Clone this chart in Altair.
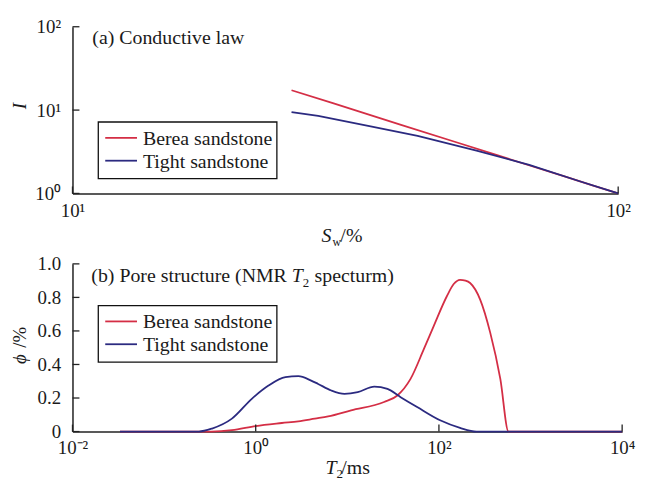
import altair as alt
import pandas as pd

FONT = "Liberation Serif"
INK = "#1a1a1a"

series = ["Berea sandstone", "Tight sandstone"]
colors = ["#d42e45", "#2b2a80"]

# (a) Conductive law
sw_berea = [25.2, 30, 40, 50, 60, 70, 80, 90, 100]
i_berea = [17.3, 12.1, 6.66, 4.20, 2.88, 2.09, 1.59, 1.24, 1.0]
sw_tight = [25.2, 28.2, 35, 42.9, 55, 68.7, 85, 100]
i_tight = [9.47, 8.5, 6.4, 4.9, 3.27, 2.2, 1.40, 1.0]

# (b) NMR T2 spectrum
t2_berea = [0.033, 0.33, 0.55, 1.0, 1.93, 2.92, 4.42, 6.17, 11.0, 25.2, 35.2, 49.0, 68.4,
            87.7, 122, 145, 170, 195, 219, 282, 363, 468, 575, 10000]
phi_berea = [0, 0, 0.008, 0.033, 0.051, 0.061, 0.077, 0.09, 0.126, 0.176, 0.215, 0.314, 0.491,
             0.629, 0.807, 0.88, 0.905, 0.90, 0.886, 0.787, 0.59, 0.314, 0, 0]
t2_tight = [0.033, 0.24, 0.334, 0.55, 0.906, 1.38, 2.11, 2.92, 4.03, 4.80, 6.68, 9.31, 13.0,
            19.7, 27.4, 38.2, 57.8, 103, 170, 257, 10000]
phi_tight = [0, 0, 0.018, 0.077, 0.195, 0.274, 0.324, 0.33, 0.304, 0.284, 0.245, 0.225, 0.235,
             0.268, 0.254, 0.205, 0.146, 0.067, 0.022, 0, 0]

top_x_ticks = [10, 100]
top_y_ticks = [1, 10, 100]
bot_x_ticks = [0.01, 1, 100, 10000]
bot_y_ticks = [0, 0.2, 0.4, 0.6, 0.8, 1.0]

TW, TH = 550, 168
BW, BH = 554, 169


def frame(xs, ys, sname):
    return pd.DataFrame({"x": xs, "y": ys, "s": sname})


top_df = pd.concat([frame(sw_berea, i_berea, series[0]), frame(sw_tight, i_tight, series[1])])
bot_df = pd.concat([frame(t2_berea, phi_berea, series[0]), frame(t2_tight, phi_tight, series[1])])

axis_common = dict(
    title=None, grid=False, ticks=False, domainColor="#222", domainWidth=1.5,
    labelFont=FONT, labelFontSize=19, labelColor=INK, labelFlush=False, labelOverlap=False,
)

top_xax = alt.Axis(values=top_x_ticks, labelPadding=8,
                   labelExpr="datum.value < 50 ? '10¹' : '10²'", **axis_common)
top_yax = alt.Axis(values=top_y_ticks, labelPadding=12,
                   labelExpr="datum.value < 5 ? '10⁰' : datum.value < 50 ? '10¹' : '10²'", **axis_common)
bot_xax = alt.Axis(values=bot_x_ticks, labelPadding=7,
                   labelExpr="datum.value < 0.1 ? '10⁻²' : datum.value < 10 ? '10⁰' : datum.value < 1000 ? '10²' : '10⁴'",
                   **axis_common)
bot_yax = alt.Axis(values=bot_y_ticks, labelPadding=12,
                   labelExpr="datum.value == 0 ? '0' : format(datum.value, '.1f')", **axis_common)

top_xs = alt.Scale(type="log", domain=[10, 100])
top_ys = alt.Scale(type="log", domain=[1, 100])
bot_xs = alt.Scale(type="log", domain=[0.01, 10000])
bot_ys = alt.Scale(domain=[0, 1])

color_enc = alt.Color("s:N", scale=alt.Scale(domain=series, range=colors), legend=None)


def txt(s, x, y, size=20, style="normal", angle=0, align="left", baseline="alphabetic"):
    return alt.Chart(pd.DataFrame({"t": [s]})).mark_text(
        font=FONT, fontSize=size, fontStyle=style, angle=angle, align=align,
        baseline=baseline, color=INK
    ).encode(text="t:N", x=alt.value(x), y=alt.value(y))


def legend(x0, y0):
    layers = [
        alt.Chart(pd.DataFrame({"a": [0]})).mark_rect(
            fill="white", stroke="#111", strokeWidth=1.3
        ).encode(x=alt.value(x0), x2=alt.value(x0 + 180), y=alt.value(y0), y2=alt.value(y0 + 57))
    ]
    for i, (s, c) in enumerate(zip(series, colors)):
        ly = y0 + 16 + 23 * i
        layers.append(
            alt.Chart(pd.DataFrame({"a": [0]})).mark_rule(color=c, strokeWidth=1.8).encode(
                x=alt.value(x0 + 7), x2=alt.value(x0 + 39), y=alt.value(ly)
            )
        )
        layers.append(txt(s, x0 + 45, ly + 1, baseline="middle"))
    return layers


def ticks_layers(xvals, yvals, xs, ys, xax, yax, h):
    yt = alt.Chart(pd.DataFrame({"y": yvals})).mark_rule(color="#222", strokeWidth=1.3).encode(
        y=alt.Y("y:Q", scale=ys, axis=yax), x=alt.value(0), x2=alt.value(7)
    )
    xt = alt.Chart(pd.DataFrame({"x": xvals})).mark_rule(color="#222", strokeWidth=1.3).encode(
        x=alt.X("x:Q", scale=xs, axis=xax), y=alt.value(h), y2=alt.value(h - 7)
    )
    return [yt, xt]


top_lines = alt.Chart(top_df).mark_line(strokeWidth=1.8).encode(
    x=alt.X("x:Q", scale=top_xs, axis=top_xax),
    y=alt.Y("y:Q", scale=top_ys, axis=top_yax),
    color=color_enc,
    detail="s:N",
)

top = alt.layer(
    top_lines,
    *ticks_layers(top_x_ticks, top_y_ticks, top_xs, top_ys, top_xax, top_yax, TH),
    *legend(26, 96),
    txt("(a) Conductive law", 20, 17.5),
    txt("I", -53, 80, size=19, style="italic", angle=270, align="center", baseline="middle"),
    txt("S", 251, 217, style="italic"),
    txt("w", 262, 221, size=12),
    txt("/%", 270, 217),
).properties(width=TW, height=TH)

bot_lines = alt.Chart(bot_df).mark_line(strokeWidth=1.8, interpolate="monotone").encode(
    x=alt.X("x:Q", scale=bot_xs, axis=bot_xax),
    y=alt.Y("y:Q", scale=bot_ys, axis=bot_yax),
    color=color_enc,
    detail="s:N",
)

bottom = alt.layer(
    bot_lines,
    *ticks_layers(bot_x_ticks, bot_y_ticks, bot_xs, bot_ys, bot_xax, bot_yax, BH),
    *legend(26, 42),
    txt("(b) Pore structure (NMR ", 19, 18.5),
    txt("T", 221, 18.5, style="italic"),
    txt("2", 232, 23, size=13),
    txt("specturm)", 244, 18.5),
    txt("ϕ", -53, 96, size=19, style="italic", angle=270, align="center", baseline="middle"),
    txt("/%", -53, 74, size=19, angle=270, align="center", baseline="middle"),
    txt("T", 255, 212, style="italic"),
    txt("2", 266, 216, size=13),
    txt("/ms", 271, 212),
).properties(width=BW, height=BH)

chart = alt.vconcat(top, bottom, spacing=71, bounds="flush").properties(
    padding={"left": 3, "top": 8, "right": 5, "bottom": 5}
).configure_view(stroke=None)

chart.save("out.html", embed_options={"renderer": "svg", "actions": False})
